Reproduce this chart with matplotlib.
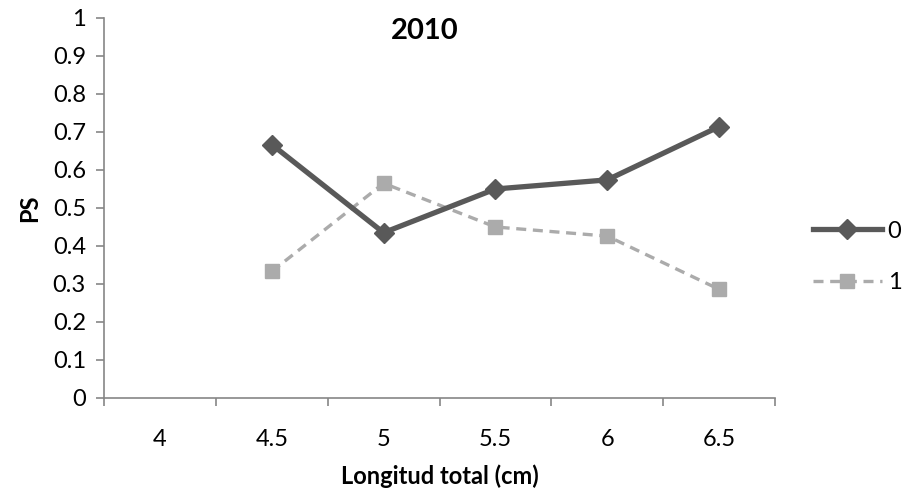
import numpy as np
import matplotlib
matplotlib.use("Agg")
import matplotlib.pyplot as plt
from matplotlib.lines import Line2D

plt.rcParams['font.family'] = ['Lato', 'DejaVu Sans']

categories = ["4", "4.5", "5", "5.5", "6", "6.5"]
series_0 = [np.nan, 0.667, 0.435, 0.550, 0.574, 0.714]
series_1 = [np.nan, 0.333, 0.565, 0.450, 0.426, 0.286]
y_ticks = [0, 0.1, 0.2, 0.3, 0.4, 0.5, 0.6, 0.7, 0.8, 0.9, 1]
y_tick_labels = ["0", "0.1", "0.2", "0.3", "0.4", "0.5", "0.6", "0.7", "0.8", "0.9", "1"]

dark = "#595959"
light = "#ABABAB"
axis_col = "#868686"
fs = 17

fig = plt.figure(figsize=(9.07, 4.9), dpi=100)
ax = fig.add_axes([0.1147, 0.1878, 0.7398, 0.7755])

x = np.arange(len(categories))
ax.plot(x, series_1, color=light, lw=2.4, ls=(0, (3, 2)), marker="s",
        markersize=10, markerfacecolor=light, markeredgecolor=light, zorder=3)
ax.plot(x, series_0, color=dark, lw=3.8, marker="D",
        markersize=10, markerfacecolor=dark, markeredgecolor=dark, zorder=4)

ax.set_xlim(-0.5, len(categories) - 0.5)
ax.set_ylim(0, 1)
ax.set_yticks(y_ticks)
ax.set_yticklabels(y_tick_labels)
ax.set_xticks(x)
ax.set_xticklabels(categories)
ax.set_xticks(np.arange(len(categories) + 1) - 0.5, minor=True)

for s in ["top", "right"]:
    ax.spines[s].set_visible(False)
for s in ["left", "bottom"]:
    ax.spines[s].set_color(axis_col)
    ax.spines[s].set_linewidth(1.2)

ax.tick_params(axis="y", which="major", direction="out", length=6, width=1.2,
               color=axis_col, labelsize=fs, pad=7, labelcolor="black")
ax.tick_params(axis="x", which="major", length=0, labelsize=fs, pad=22,
               labelcolor="black")
ax.tick_params(axis="x", which="minor", direction="out", length=6, width=1.2,
               color=axis_col)

ax.set_xlabel("Longitud total (cm)", fontsize=fs, fontweight="bold", labelpad=11)
ax.set_ylabel("PS", fontsize=fs, fontweight="bold", labelpad=8)
fig.text(425 / 907, 1 - 31 / 490, "2010", ha="center", va="center",
         fontsize=21, fontweight="bold")

handles = [
    Line2D([], [], color=dark, lw=3.8, marker="D", markersize=10,
           markerfacecolor=dark, markeredgecolor=dark),
    Line2D([], [], color=light, lw=2.4, ls=(0, (3, 2)), marker="s",
           markersize=10, markerfacecolor=light, markeredgecolor=light),
]
fig.legend(handles, ["0", "1"], loc="center left",
           bbox_to_anchor=(792 / 907, 1 - 257 / 490), frameon=False,
           fontsize=fs, handlelength=2.9, handletextpad=0.25, labelspacing=1.3)

fig.savefig("out.png", dpi=100)
